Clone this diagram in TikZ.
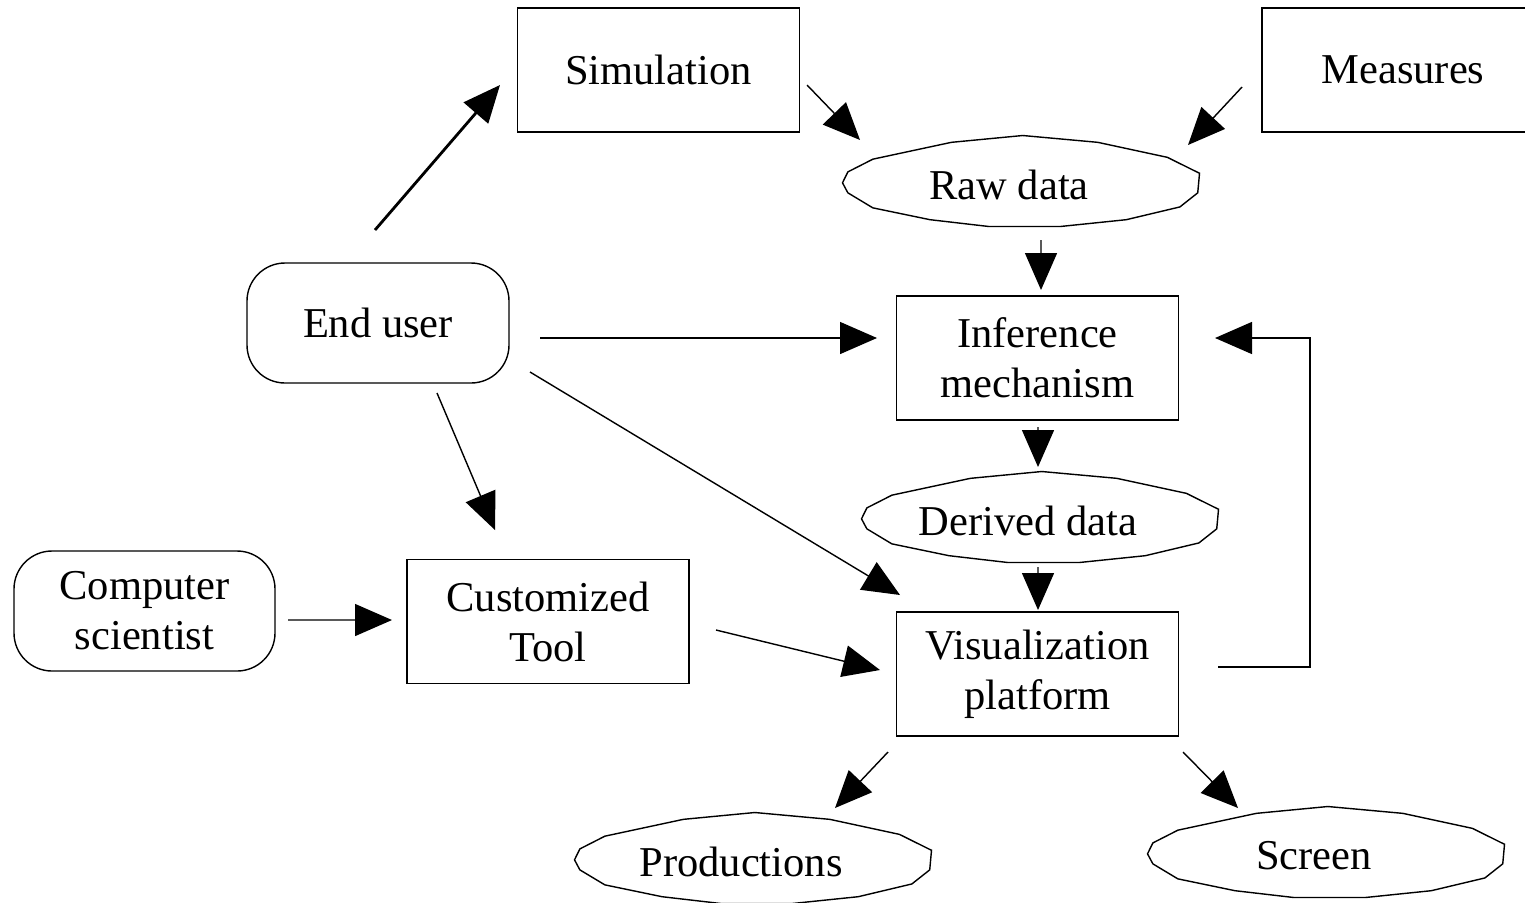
\documentclass[tikz,border=0pt]{standalone}
\usepackage{fontspec}
\setmainfont{Liberation Serif}
\usetikzlibrary{calc}
\usetikzlibrary{arrows.meta}

\tikzset{
	box/.style = {draw, line width=0.4pt, minimum width=2.82cm, minimum height=1.24cm, align=center},
	roundbox/.style = {draw, line width=0.4pt, rounded corners=0.38cm, minimum width=2.62cm, minimum height=1.2cm, align=center},
	lbl/.style = {align=center},
	arr/.style = {line width=0.4pt, -{Triangle[length=0.37cm, width=0.32cm]}}
}

% flat polygon "ellipse": name, centre, text
\newcommand{\blob}[3]{
	\coordinate (#1) at (#2);
	\draw[line width=0.4pt, shift={(#2)}, xscale=1.785, yscale=0.455] (0.01,1)--(-0.39,0.85)--(-0.83,0.48)--(-0.97,0.2)--(-1,-0.04)--(-0.97,-0.26)--(-0.83,-0.59)--(-0.51,-0.85)--(-0.18,-1)--(0.22,-1)--(0.59,-0.85)--(0.89,-0.57)--(0.99,-0.26)--(1,0.17)--(0.82,0.52)--(0.43,0.85)--cycle;
	\node[lbl] (#1-text) at ($(#1)+(-0.12,-0.04)$) {#3};
}

\begin{document}
\begin{tikzpicture}[every node/.style={font=\fontsize{12.1}{14.2}\selectfont}]
	\useasboundingbox (0, 0) rectangle (15.25, 9.02);
	% boxes
	\node[box] (sim) at (6.585, 8.32) {Simulation};
	\node[box] (meas) at (14.03, 8.32) {Measures};
	\node[box] (inf) at (10.375, 5.44) {Inference\\mechanism};
	\node[box] (vis) at (10.375, 2.28) {Visualization\\platform};
	\node[box] (tool) at (5.48, 2.805) {Customized\\Tool};
	\node[roundbox] (user) at (3.78, 5.79) {End user};
	\node[roundbox, minimum width=2.61cm] (sci) at (1.445, 2.91) {Computer\\scientist};
	% data
	\blob{raw}{10.21, 7.21}{Raw data}
	\blob{der}{10.40, 3.85}{Derived data}
	\blob{prod}{7.53, 0.44}{Productions}
	\blob{scr}{13.26, 0.50}{Screen}
	% arrows
	\draw[arr, line width=0.8pt] ($(user)+(-0.03, 0.93)$)--($(sim)+(-1.585, -0.15)$);
	\draw[arr] ($(sim)+(1.485, -0.15)$)--($(raw)+(-1.61, 0.41)$);
	\draw[arr] ($(meas)+(-1.61, -0.17)$)--($(raw)+(1.67, 0.36)$);
	\draw[arr] ($(raw)+(0.2, -0.59)$)--($(inf)+(0.035, 0.68)$);
	\draw[arr] ($(user)+(1.62, -0.15)$)--($(inf)+(-1.605, 0.2)$);
	\draw[arr] ($(inf)+(0.005, -0.69)$)--($(der)+(-0.02, 0.5)$);
	\draw[arr] ($(der)+(-0.02, -0.5)$)--($(vis)+(0.005, 0.64)$);
	\draw[arr] ($(user)+(1.52, -0.49)$)--($(vis)+(-1.375, 0.79)$);
	\draw[arr] ($(user)+(0.59, -0.7)$)--($(tool)+(-0.53, 0.915)$);
	\draw[arr] ($(sci)+(1.435, -0.09)$)--($(tool)+(-1.56, 0.015)$);
	\draw[arr] ($(tool)+(1.68, -0.085)$)--($(vis)+(-1.575, 0.04)$);
	\draw[arr] ($(vis)+(1.805, 0.07)$)--++(0.92, 0) |- ($(inf)+(1.775, 0.2)$);
	\draw[arr] ($(vis)+(-1.495, -0.78)$)--($(prod)+(0.82, 0.5)$);
	\draw[arr] ($(vis)+(1.455, -0.78)$)--($(scr)+(-0.88, 0.44)$);
\end{tikzpicture}
\end{document}
